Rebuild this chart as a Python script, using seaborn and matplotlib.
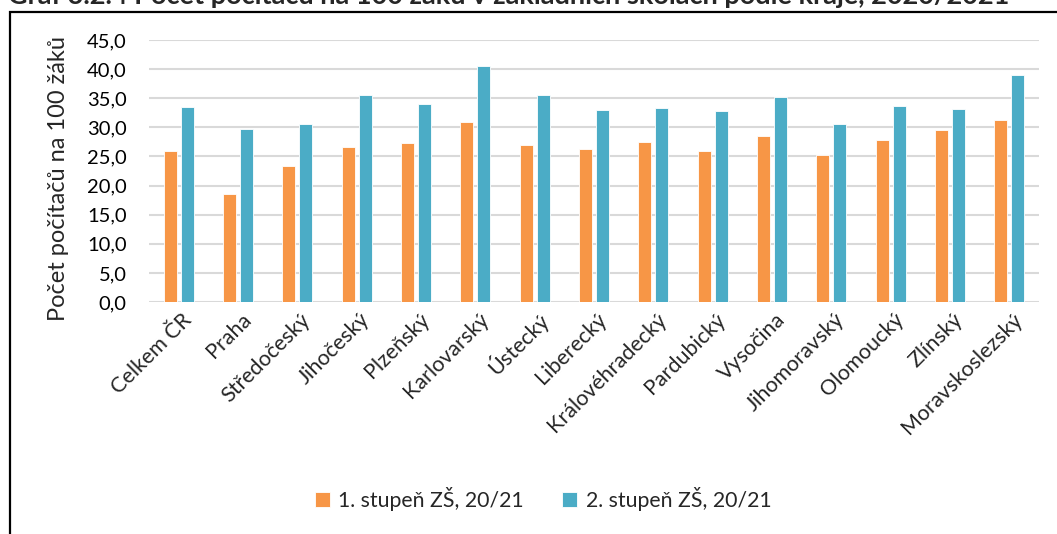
import pandas as pd
import matplotlib.pyplot as plt
import seaborn as sns
from matplotlib.patches import Rectangle
from matplotlib.transforms import ScaledTranslation

# Data
regions = ['Celkem ČR', 'Praha', 'Středočeský', 'Jihočeský', 'Plzeňský', 'Karlovarský',
           'Ústecký', 'Liberecký', 'Královéhradecký', 'Pardubický', 'Vysočina',
           'Jihomoravský', 'Olomoucký', 'Zlínský', 'Moravskoslezský']
stupen1 = [26.0, 18.6, 23.3, 26.6, 27.3, 30.9, 27.0, 26.3, 27.5, 25.9, 28.5, 25.2, 27.8, 29.5, 31.2]
stupen2 = [33.5, 29.7, 30.6, 35.5, 34.0, 40.5, 35.5, 32.9, 33.3, 32.8, 35.2, 30.6, 33.7, 33.2, 39.0]
series = ['1. stupeň ZŠ, 20/21', '2. stupeň ZŠ, 20/21']
colors = ['#F79646', '#4BACC6']

df = pd.DataFrame({
    'kraj': regions * 2,
    'serie': [series[0]] * len(regions) + [series[1]] * len(regions),
    'hodnota': stupen1 + stupen2,
})

sns.set_style('white')
plt.rcParams['font.family'] = ['Lato', 'DejaVu Sans']

fig = plt.figure(figsize=(10.57, 5.34), dpi=100)
ax = fig.add_axes([149 / 1057, 1 - 302 / 534, (1039 - 149) / 1057, (302 - 40) / 534])

sns.barplot(data=df, x='kraj', y='hodnota', hue='serie', palette=colors,
            width=0.57, gap=0.23, edgecolor='#ffffff', linewidth=0.6,
            saturation=1, ax=ax, legend=True)

ax.set_ylim(0, 45)
ax.set_xlim(-0.5, len(regions) - 0.5)
ax.set_yticks(range(0, 46, 5))
ax.set_yticklabels([f'{v},0' for v in range(0, 46, 5)], fontsize=14.5, color='#000000')
ax.yaxis.grid(True, color='#D9D9D9', linewidth=1.5)
ax.set_axisbelow(True)
ax.tick_params(axis='both', length=0)
ax.tick_params(axis='y', pad=16)
ax.tick_params(axis='x', pad=4)
shift = ScaledTranslation(10 / 100, -9 / 100, fig.dpi_scale_trans)
for lab in ax.get_xticklabels():
    lab.set_rotation(45)
    lab.set_ha('right')
    lab.set_va('center')
    lab.set_rotation_mode('anchor')
    lab.set_fontsize(15.5)
    lab.set_transform(lab.get_transform() + shift)
for s in ax.spines.values():
    s.set_visible(False)
ax.set_xlabel('')
ax.set_ylabel('Počet počítačů na 100 žáků', fontsize=17, labelpad=5)
ax.yaxis.set_label_coords(-0.09, 0.47)

handles, labels = ax.get_legend_handles_labels()
ax.legend_.remove()
fig.legend(handles, labels, loc='center', bbox_to_anchor=(543 / 1057, 1 - 499 / 534),
           ncol=2, frameon=False, fontsize=15.3, handlelength=0.7, handleheight=0.7,
           handletextpad=0.4, columnspacing=1.8)

# frame around the chart (cropped on right and bottom)
fig.patches.append(Rectangle((10 / 1057, -0.1), 1.2, 1 - 11.5 / 534 + 0.1,
                             transform=fig.transFigure, fill=False,
                             edgecolor='black', linewidth=1.6))

fig.text(8 / 1057, 1 - 4 / 534,
         'Graf 3.2.4 Počet počítačů na 100 žáků v základních školách podle kraje, 2020/2021',
         fontsize=19.5, fontweight='bold', va='baseline', ha='left')

fig.savefig('out.png', dpi=100)
